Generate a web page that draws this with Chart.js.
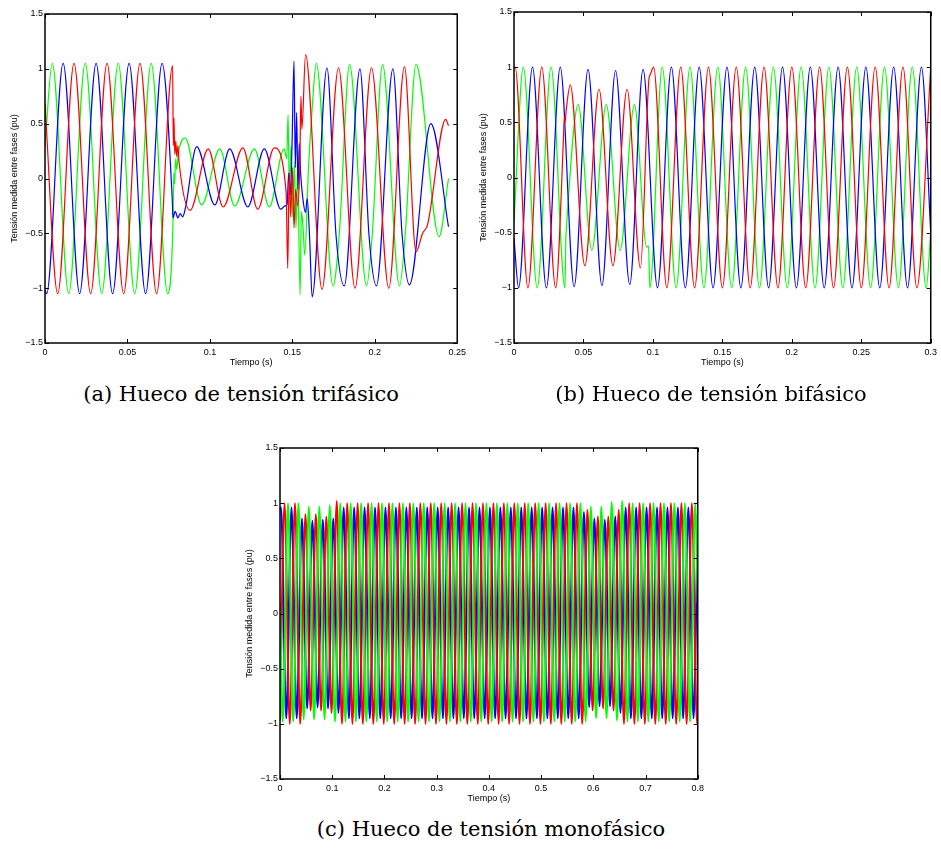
<!DOCTYPE html>
<html>
<head>
<meta charset="utf-8">
<script src="https://cdn.jsdelivr.net/npm/chart.js@4.4.0/dist/chart.umd.min.js"></script>
<style>
  body { margin: 0; background: #fff; width: 941px; height: 849px; position: relative; overflow: hidden; }
  canvas { position: absolute; }
  .caption {
    position: absolute;
    font-family: "DejaVu Serif", serif;
    font-size: 21px;
    color: #000;
    white-space: nowrap;
    transform: translate(-50%, -50%);
  }
</style>
</head>
<body>
<canvas id="chartTri" width="470" height="372" style="left:0px;top:0px"></canvas>
<canvas id="chartBi" width="472" height="372" style="left:469px;top:0px"></canvas>
<canvas id="chartMono" width="473" height="374" style="left:235px;top:434px"></canvas>

<div class="caption" style="left:241px;top:394px">(a) Hueco de tensión trifásico</div>
<div class="caption" style="left:711px;top:394px">(b) Hueco de tensión bifásico</div>
<div class="caption" style="left:491px;top:829px">(c) Hueco de tensión monofásico</div>

<script>
// tick positions
const yTicks = [-1.5, -1, -0.5, 0, 0.5, 1, 1.5];
const triTicks = [0, 0.05, 0.1, 0.15, 0.2, 0.25];
const biTicks = [0, 0.05, 0.1, 0.15, 0.2, 0.25, 0.3];
const monoTicks = [0, 0.1, 0.2, 0.3, 0.4, 0.5, 0.6, 0.7, 0.8];

// (a) three-phase sag: [time s, voltage pu] at peaks, troughs and transient points
const triRed = [
  [0, 0.68], [0.0077, -1.05], [0.0176, 1.05], [0.0277, -1.05], [0.0376, 1.05], [0.0477, -1.05],
  [0.0576, 1.05], [0.0677, -1.05], [0.0774, 1.03],
  [0.0778, 0.3], [0.0782, 0.55], [0.0787, 0.22], [0.0793, 0.34], [0.0799, 0.2], [0.0806, 0.3], [0.0813, 0.15],
  [0.088, -0.29], [0.099, 0.27], [0.108, -0.26], [0.12, 0.28], [0.129, -0.28], [0.139, 0.28],
  [0.1462, -0.12], [0.1472, -0.82], [0.1481, 0.05], [0.149, -0.35], [0.15, 0.1], [0.151, -0.45],
  [0.152, -0.1], [0.1532, -0.25], [0.1545, 0.1], [0.1552, 0.75], [0.1558, 0.45], [0.158, 1.13],
  [0.168, -1.01], [0.178, 1.01], [0.188, -1.0], [0.198, 1.01], [0.2085, -1.0], [0.218, 1.02],
  [0.225, -0.67], [0.229, -0.5], [0.232, -0.42], [0.243, 0.54], [0.2447, 0.48]
];
const triGreen = [
  [0, 0.3], [0.0044, 1.05], [0.0144, -1.05], [0.0244, 1.05], [0.0344, -1.05], [0.0444, 1.05],
  [0.0544, -1.05], [0.0644, 1.05], [0.0744, -1.05],
  [0.0777, -0.35], [0.0781, 0.05], [0.0786, -0.05], [0.0792, 0.18], [0.0799, 0.08], [0.0808, 0.22],
  [0.085, 0.37], [0.095, -0.24], [0.106, 0.27], [0.115, -0.25], [0.127, 0.27], [0.136, -0.26], [0.145, 0.27],
  [0.1466, 0.18], [0.1474, 0.58], [0.1482, -0.1], [0.1492, 0.3], [0.1502, -0.35], [0.1512, 0.15],
  [0.1522, -0.45], [0.1532, 0.1], [0.1547, -1.06], [0.1555, -0.3], [0.1565, -0.45], [0.1575, -0.7],
  [0.1598, 0.1], [0.1622, 0.68], [0.1645, 1.05],
  [0.1747, -0.98], [0.1785, -0.5], [0.1847, 1.04], [0.195, -0.98], [0.1985, -0.5], [0.2047, 1.04],
  [0.215, -0.98], [0.2185, -0.5], [0.225, 1.04], [0.239, -0.53], [0.2447, 0.0]
];
const triBlue = [
  [0, -1.02], [0.001, -1.05], [0.011, 1.05], [0.021, -1.05], [0.031, 1.05], [0.041, -1.05],
  [0.051, 1.05], [0.061, -1.05], [0.071, 1.05],
  [0.0772, -0.2], [0.0776, -0.36], [0.079, -0.3], [0.0805, -0.36], [0.082, -0.32], [0.0835, -0.35], [0.085, -0.28],
  [0.092, 0.29], [0.103, -0.24], [0.112, 0.27], [0.123, -0.26], [0.133, 0.27], [0.143, -0.28],
  [0.1455, -0.25], [0.1468, -0.24], [0.1478, 0.05], [0.1488, -0.15], [0.1498, 0.3], [0.151, 1.07],
  [0.1518, 0.1], [0.1526, 0.6], [0.1534, -0.1], [0.1542, 0.32], [0.155, 0.05], [0.1565, -0.2],
  [0.158, -0.31], [0.159, -0.18], [0.1605, -0.55], [0.162, -1.08],
  [0.171, 1.01], [0.1765, -0.52], [0.1815, -0.98], [0.191, 1.0], [0.1965, -0.52], [0.201, -0.98],
  [0.211, 1.0], [0.2165, -0.5], [0.221, -0.97], [0.234, 0.5], [0.2447, -0.44]
];

// (b) two-phase sag
const biRed = [
  [0, 0.99], [0.0008, 1.0], [0.01, -1], [0.02, 1], [0.03, -1],
  [0.0356, 0.35], [0.0362, 0.55], [0.0368, 0.5], [0.0375, 0.6], [0.0405, 0.84],
  [0.051, -0.8], [0.0612, 0.8], [0.0712, -0.8], [0.0814, 0.8], [0.091, -0.82],
  [0.0972, 0.9], [0.098, 0.93], [0.1005, 1.0],
  [0.11, -1], [0.12, 1], [0.13, -1], [0.14, 1], [0.15, -1], [0.16, 1], [0.17, -1], [0.18, 1],
  [0.19, -1], [0.2, 1], [0.21, -1], [0.22, 1], [0.23, -1], [0.24, 1], [0.25, -1], [0.26, 1],
  [0.27, -1], [0.28, 1], [0.29, -1], [0.3, 1]
];
const biGreen = [
  [0, -0.4], [0.0067, 1], [0.0167, -1], [0.0267, 1], [0.0367, -1],
  [0.0373, -0.55], [0.0376, -0.48], [0.0462, 0.66], [0.056, -0.66], [0.0664, 0.66], [0.0764, -0.66],
  [0.0867, 0.66], [0.0955, -0.63], [0.0968, -0.62], [0.0978, -1.0],
  [0.1067, 1], [0.1167, -1], [0.1267, 1], [0.1367, -1], [0.1467, 1], [0.1567, -1], [0.1667, 1],
  [0.1767, -1], [0.1867, 1], [0.1967, -1], [0.2067, 1], [0.2167, -1], [0.2267, 1], [0.2367, -1],
  [0.2467, 1], [0.2567, -1], [0.2667, 1], [0.2767, -1], [0.2867, 1], [0.2967, -1], [0.3, -0.5]
];
const biBlue = [
  [0, -0.55], [0.0033, -1], [0.0133, 1], [0.0233, -1], [0.0333, 1], [0.0433, -0.99], [0.0533, 0.98],
  [0.0633, -0.98], [0.0731, 0.97], [0.0833, -0.97], [0.0929, 0.98],
  [0.1033, -1], [0.1133, 1], [0.1233, -1], [0.1333, 1], [0.1433, -1], [0.1533, 1], [0.1633, -1],
  [0.1733, 1], [0.1833, -1], [0.1933, 1], [0.2033, -1], [0.2133, 1], [0.2233, -1], [0.2333, 1],
  [0.2433, -1], [0.2533, 1], [0.2633, -1], [0.2733, 1], [0.2833, -1], [0.2933, 1], [0.3, -0.5]
];

// (c) single-phase sag
const monoRed = [
  [0, -0.97], [0.0087, 1], [0.0187, -1], [0.0287, 1], [0.0387, -1], [0.0487, 0.9], [0.0587, -0.88],
  [0.0687, 0.9], [0.0787, -0.88], [0.0887, 0.88], [0.0987, -0.9], [0.1087, 1.02], [0.1187, -1],
  [0.1287, 1], [0.1387, -1], [0.1487, 1], [0.1587, -1], [0.1687, 1], [0.1787, -1], [0.1887, 1],
  [0.1987, -1], [0.2087, 1], [0.2187, -1], [0.2287, 1], [0.2387, -1], [0.2487, 1], [0.2587, -1],
  [0.2687, 1], [0.2787, -1], [0.2887, 1], [0.2987, -1], [0.3087, 1], [0.3187, -1], [0.3287, 1],
  [0.3387, -1], [0.3487, 1], [0.3587, -1], [0.3687, 1], [0.3787, -1], [0.3887, 1], [0.3987, -1],
  [0.4087, 1], [0.4187, -1], [0.4287, 1], [0.4387, -1], [0.4487, 1], [0.4587, -1], [0.4687, 1],
  [0.4787, -1], [0.4887, 1], [0.4987, -1], [0.5087, 1], [0.5187, -1], [0.5287, 1], [0.5387, -1],
  [0.5487, 1], [0.5587, -1], [0.5687, 1], [0.5787, -1], [0.5887, 0.94], [0.5987, -0.88], [0.6087, 0.88],
  [0.6187, -0.86], [0.6287, 0.88], [0.6387, -0.88], [0.6487, 0.94], [0.6587, -1], [0.6687, 1],
  [0.6787, -1], [0.6887, 1], [0.6987, -1], [0.7087, 1], [0.7187, -1], [0.7287, 1], [0.7387, -1],
  [0.7487, 1], [0.7587, -1], [0.7687, 1], [0.7787, -1], [0.7887, 1], [0.7987, -1], [0.8, -0.98]
];
const monoGreen = [
  [0, 0.1], [0.0053, -0.98], [0.0153, 1], [0.0253, -0.98], [0.0353, 1], [0.0453, -0.96], [0.0553, 0.97],
  [0.0653, -0.96], [0.0753, 0.97], [0.0853, -0.96], [0.0953, 0.98], [0.1053, -0.98], [0.1153, 1],
  [0.1253, -0.98], [0.1353, 1], [0.1453, -0.98], [0.1553, 1], [0.1653, -0.98], [0.1753, 1],
  [0.1853, -0.98], [0.1953, 1], [0.2053, -0.98], [0.2153, 1], [0.2253, -0.98], [0.2353, 1],
  [0.2453, -0.98], [0.2553, 1], [0.2653, -0.98], [0.2753, 1], [0.2853, -0.98], [0.2953, 1],
  [0.3053, -0.98], [0.3153, 1], [0.3253, -0.98], [0.3353, 1], [0.3453, -0.98], [0.3553, 1],
  [0.3653, -0.98], [0.3753, 1], [0.3853, -0.98], [0.3953, 1], [0.4053, -0.98], [0.4153, 1],
  [0.4253, -0.98], [0.4353, 1], [0.4453, -0.98], [0.4553, 1], [0.4653, -0.98], [0.4753, 1],
  [0.4853, -0.98], [0.4953, 1], [0.5053, -0.98], [0.5153, 1], [0.5253, -0.98], [0.5353, 1],
  [0.5453, -0.98], [0.5553, 1], [0.5653, -0.98], [0.5753, 1], [0.5853, -0.98], [0.5953, 0.97],
  [0.6053, -0.95], [0.6153, 0.97], [0.6253, -0.95], [0.6353, 1.01], [0.6453, -0.97], [0.6553, 1.02],
  [0.6653, -0.98], [0.6753, 1], [0.6853, -0.98], [0.6953, 1], [0.7053, -0.98], [0.7153, 1],
  [0.7253, -0.98], [0.7353, 1], [0.7453, -0.98], [0.7553, 1], [0.7653, -0.98], [0.7753, 1],
  [0.7853, -0.98], [0.7953, 1], [0.8, 0.1]
];
const monoBlue = [
  [0, 0.94], [0.002, 0.96], [0.012, -0.95], [0.022, 0.96], [0.032, -0.95], [0.042, 0.86], [0.052, -0.86],
  [0.062, 0.84], [0.072, -0.85], [0.082, 0.85], [0.092, -0.86], [0.102, 0.86], [0.112, -0.9],
  [0.122, 0.96], [0.132, -0.95], [0.142, 0.96], [0.152, -0.95], [0.162, 0.96], [0.172, -0.95],
  [0.182, 0.96], [0.192, -0.95], [0.202, 0.96], [0.212, -0.95], [0.222, 0.96], [0.232, -0.95],
  [0.242, 0.96], [0.252, -0.95], [0.262, 0.96], [0.272, -0.95], [0.282, 0.96], [0.292, -0.95],
  [0.302, 0.96], [0.312, -0.95], [0.322, 0.96], [0.332, -0.95], [0.342, 0.96], [0.352, -0.95],
  [0.362, 0.96], [0.372, -0.95], [0.382, 0.96], [0.392, -0.95], [0.402, 0.96], [0.412, -0.95],
  [0.422, 0.96], [0.432, -0.95], [0.442, 0.96], [0.452, -0.95], [0.462, 0.96], [0.472, -0.95],
  [0.482, 0.96], [0.492, -0.95], [0.502, 0.96], [0.512, -0.95], [0.522, 0.96], [0.532, -0.95],
  [0.542, 0.96], [0.552, -0.95], [0.562, 0.96], [0.572, -0.95], [0.582, 0.92], [0.592, -0.85],
  [0.602, 0.86], [0.612, -0.84], [0.622, 0.85], [0.632, -0.84], [0.642, 0.88], [0.652, -0.9],
  [0.662, 0.96], [0.672, -0.95], [0.682, 0.96], [0.692, -0.95], [0.702, 0.96], [0.712, -0.95],
  [0.722, 0.96], [0.732, -0.95], [0.742, 0.96], [0.752, -0.95], [0.762, 0.96], [0.772, -0.95],
  [0.782, 0.96], [0.792, -0.95], [0.8, 0.9]
];

const RED = '#ff0000';
const GREEN = '#00ff00';
const BLUE = '#0000ff';
const axisFont = { family: '"Liberation Sans", Arial, sans-serif', size: 9 };

// minus sign like the original plotting tool
const fmtTick = v => String(v).replace('-', '\u2212');

// black box with inward tick marks on all four sides
const boxTicks = {
  id: 'boxTicks',
  afterDraw(chart) {
    const { ctx, chartArea: a, scales: { x, y } } = chart;
    const len = 4;
    ctx.save();
    ctx.strokeStyle = '#000';
    ctx.lineWidth = 1;
    ctx.beginPath();
    x.ticks.forEach(t => {
      const px = Math.round(x.getPixelForValue(t.value)) + 0.5;
      ctx.moveTo(px, a.bottom); ctx.lineTo(px, a.bottom - len);
      ctx.moveTo(px, a.top); ctx.lineTo(px, a.top + len);
    });
    y.ticks.forEach(t => {
      const py = Math.round(y.getPixelForValue(t.value)) + 0.5;
      ctx.moveTo(a.left, py); ctx.lineTo(a.left + len, py);
      ctx.moveTo(a.right, py); ctx.lineTo(a.right - len, py);
    });
    ctx.stroke();
    ctx.lineWidth = 1.5;
    ctx.strokeRect(a.left, a.top, a.right - a.left, a.bottom - a.top);
    ctx.restore();
  }
};

function buildDataset(points, color, width) {
  return {
    data: points.map(([t, v]) => ({ x: t, y: v })),
    borderColor: color,
    borderWidth: width,
    pointRadius: 0,
    cubicInterpolationMode: 'monotone',
    fill: false
  };
}

function drawPanel(canvasId, series, xTicks, xMax, lineWidth, padTop) {
  const ctx = document.getElementById(canvasId).getContext('2d');
  return new Chart(ctx, {
    type: 'line',
    data: {
      datasets: series.map(s => buildDataset(s.points, s.color, lineWidth))
    },
    options: {
      responsive: false,
      animation: false,
      devicePixelRatio: 1,
      layout: { padding: { top: padTop, right: 7, bottom: 0, left: 0 } },
      plugins: { legend: { display: false }, tooltip: { enabled: false } },
      scales: {
        x: {
          type: 'linear',
          min: 0,
          max: xMax,
          afterBuildTicks: scale => { scale.ticks = xTicks.map(v => ({ value: v })); },
          afterFit: scale => { scale.height = 29; },
          grid: { display: false, drawTicks: false },
          border: { display: false },
          ticks: { autoSkip: false, maxRotation: 0, padding: 4, color: '#000', font: axisFont, callback: v => fmtTick(v) },
          title: { display: true, text: 'Tiempo (s)', color: '#000', font: axisFont, padding: { top: 0, bottom: 4 } }
        },
        y: {
          type: 'linear',
          min: -1.5,
          max: 1.5,
          afterBuildTicks: scale => { scale.ticks = yTicks.map(v => ({ value: v })); },
          afterFit: scale => { scale.width = 45; },
          grid: { display: false, drawTicks: false },
          border: { display: false },
          ticks: { autoSkip: false, padding: 2, color: '#000', font: axisFont, callback: v => fmtTick(v) },
          title: { display: true, text: 'Tensión medida entre fases (pu)', color: '#000', font: axisFont, padding: { top: 9, bottom: 0 } }
        }
      }
    },
    plugins: [boxTicks]
  });
}

drawPanel('chartTri', [
  { points: triRed, color: RED },
  { points: triBlue, color: BLUE },
  { points: triGreen, color: GREEN }
], triTicks, 0.25, 1.2, 14);

drawPanel('chartBi', [
  { points: biRed, color: RED },
  { points: biBlue, color: BLUE },
  { points: biGreen, color: GREEN }
], biTicks, 0.3, 1.2, 12);

drawPanel('chartMono', [
  { points: monoGreen, color: GREEN },
  { points: monoRed, color: RED },
  { points: monoBlue, color: BLUE }
], monoTicks, 0.8, 2, 14);
</script>
</body>
</html>
